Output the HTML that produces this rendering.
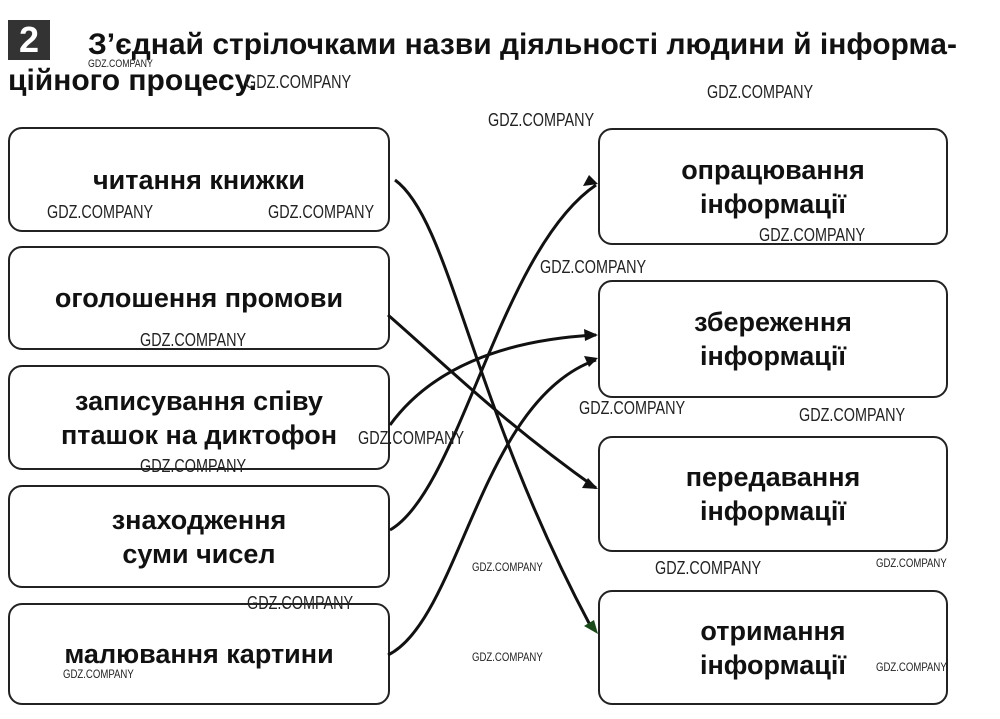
<!DOCTYPE html>
<html><head><meta charset="utf-8"><style>
body{margin:0;width:1000px;height:719px;background:#fff;position:relative;overflow:hidden;font-family:"Liberation Sans","DejaVu Sans",sans-serif;color:#111}
.b{position:absolute;border:2px solid #222;border-radius:14px;display:flex;align-items:center;justify-content:center;text-align:center;font-weight:bold;font-size:27px;line-height:34px;box-sizing:border-box}
.t{position:absolute;font-weight:bold;font-size:30px;white-space:nowrap}
.w{position:absolute;font-size:18px;color:#222;font-family:"Liberation Sans Narrow","Liberation Sans",sans-serif;transform:scaleX(.8);transform-origin:left}
</style></head><body>
<div style="position:absolute;left:8px;top:20px;width:42px;height:40px;background:#333;color:#fff;font-weight:bold;font-size:36px;text-align:center;line-height:40px">2</div>
<div class="t" style="left:88px;top:28px">З’єднай стрілочками назви діяльності людини й інформа-</div>
<div class="t" style="left:8px;top:64px">ційного процесу.</div>
<div class="b" style="left:8px;top:127px;width:382px;height:105px">читання книжки</div>
<div class="b" style="left:8px;top:246px;width:382px;height:104px">оголошення промови</div>
<div class="b" style="left:8px;top:365px;width:382px;height:105px">записування співу<br>пташок на диктофон</div>
<div class="b" style="left:8px;top:485px;width:382px;height:103px">знаходження<br>суми чисел</div>
<div class="b" style="left:8px;top:603px;width:382px;height:102px">малювання картини</div>
<div class="b" style="left:598px;top:128px;width:350px;height:117px">опрацювання<br>інформації</div>
<div class="b" style="left:598px;top:280px;width:350px;height:118px">збереження<br>інформації</div>
<div class="b" style="left:598px;top:436px;width:350px;height:116px">передавання<br>інформації</div>
<div class="b" style="left:598px;top:590px;width:350px;height:115px">отримання<br>інформації</div>
<svg width="1000" height="719" style="position:absolute;left:0;top:0" fill="none" stroke="#111" stroke-width="3">
<path d="M395 180 C450 220 470 400 590 625"/>
<path d="M388 315 C440 360 500 420 596 488"/>
<path d="M390 425 C430 370 500 340 596 335"/>
<path d="M390 530 C460 490 500 250 596 185"/>
<path d="M388 655 C460 620 480 400 596 360"/>
<g fill="#111" stroke="none">
<path d="M598 634 l-14 -8 l10 -6z" fill="#1a4a1a"/>
<path d="M598 489 l-16 -1 l6 -10z"/>
<path d="M598 335 l-14 -6 l1 12z"/>
<path d="M598 184 l-15 2 l6 -11z"/>
<path d="M598 358 l-14 -2 l5 11z"/>
</g></svg>
<div class="w" style="left:88px;top:58px;font-size:11px">GDZ.COMPANY</div>
<div class="w" style="left:245px;top:72px">GDZ.COMPANY</div>
<div class="w" style="left:488px;top:110px">GDZ.COMPANY</div>
<div class="w" style="left:707px;top:82px">GDZ.COMPANY</div>
<div class="w" style="left:47px;top:202px">GDZ.COMPANY</div>
<div class="w" style="left:268px;top:202px">GDZ.COMPANY</div>
<div class="w" style="left:759px;top:225px">GDZ.COMPANY</div>
<div class="w" style="left:540px;top:257px">GDZ.COMPANY</div>
<div class="w" style="left:140px;top:330px">GDZ.COMPANY</div>
<div class="w" style="left:579px;top:398px">GDZ.COMPANY</div>
<div class="w" style="left:799px;top:405px">GDZ.COMPANY</div>
<div class="w" style="left:358px;top:428px">GDZ.COMPANY</div>
<div class="w" style="left:140px;top:456px">GDZ.COMPANY</div>
<div class="w" style="left:472px;top:560px;font-size:12px">GDZ.COMPANY</div>
<div class="w" style="left:655px;top:558px">GDZ.COMPANY</div>
<div class="w" style="left:876px;top:556px;font-size:12px">GDZ.COMPANY</div>
<div class="w" style="left:247px;top:593px">GDZ.COMPANY</div>
<div class="w" style="left:472px;top:650px;font-size:12px">GDZ.COMPANY</div>
<div class="w" style="left:63px;top:667px;font-size:12px">GDZ.COMPANY</div>
<div class="w" style="left:876px;top:660px;font-size:12px">GDZ.COMPANY</div>
</body></html>
